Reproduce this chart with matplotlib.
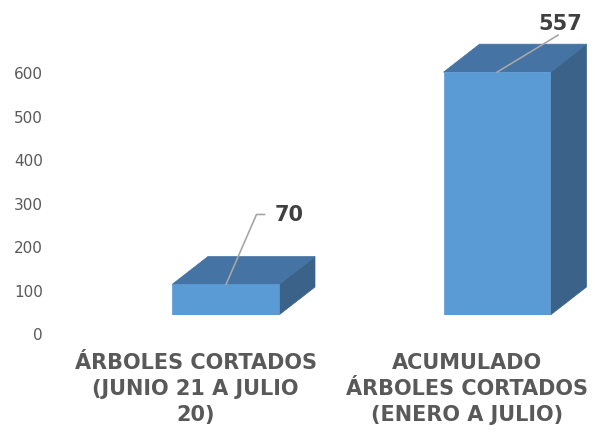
import matplotlib
matplotlib.use("Agg")
import matplotlib.pyplot as plt
from matplotlib.patches import Polygon
from matplotlib.transforms import ScaledTranslation, IdentityTransform

categories = ["ÁRBOLES CORTADOS\n(JUNIO 21 A JULIO\n20)",
              "ACUMULADO\nÁRBOLES CORTADOS\n(ENERO A JULIO)"]
values = [70, 557]
yticks = [0, 100, 200, 300, 400, 500, 600]

FRONT = "#5B9BD5"
TOP = "#4573A3"
SIDE = "#3B6389"
TICK_COLOR = "#595959"
LABEL_COLOR = "#595959"
VALUE_COLOR = "#404040"

W, H = 595, 432
fig = plt.figure(figsize=(W / 100, H / 100), dpi=100)
fig.patch.set_facecolor("white")

# axes geometry (pixels from the left / top)
ax_left, ax_right = 50, 590
ax_bottom_px, ax_top_px = 315, 31.6
ax = fig.add_axes([ax_left / W, (H - ax_bottom_px) / H,
                   (ax_right - ax_left) / W, (ax_bottom_px - ax_top_px) / H])
ax.set_xlim(-0.6464, 1.3425)
ax.set_ylim(0, 650)
ax.axis("off")

bar_w = 0.394
xs = list(range(len(values)))

# depth of the 3-D boxes, given in pixels and turned into data units
depth_px_x, depth_px_y = 36, 28
px_per_x = (ax_right - ax_left) / (1.3425 + 0.6464)
px_per_y = (ax_bottom_px - ax_top_px) / 650
dx = depth_px_x / px_per_x
dy = depth_px_y / px_per_y

for x, v in zip(xs, values):
    l, r = x - bar_w / 2, x + bar_w / 2
    # right side face
    ax.add_patch(Polygon([(r, 0), (r + dx, dy), (r + dx, v + dy), (r, v)],
                         closed=True, facecolor=SIDE, edgecolor=SIDE, lw=0.5, zorder=2))
    # top face
    ax.add_patch(Polygon([(l, v), (l + dx, v + dy), (r + dx, v + dy), (r, v)],
                         closed=True, facecolor=TOP, edgecolor=TOP, lw=0.5, zorder=2))
ax.bar(xs, values, width=bar_w, color=FRONT, edgecolor=FRONT, lw=0.5, zorder=3)

# y tick labels sit on the back wall: shifted down from the front plane
for t in yticks:
    ax.text(-0.6464, t, str(t),
            transform=ax.transData + ScaledTranslation(-7 / 100, -21 / 100, fig.dpi_scale_trans),
            ha="right", va="center", fontsize=11, color=TICK_COLOR, clip_on=False)

# category labels
for x, c in zip(xs, categories):
    ax.text(x, 0, c,
            transform=ax.transData + ScaledTranslation(-30 / 100, -38 / 100, fig.dpi_scale_trans),
            ha="center", va="top", fontsize=15, fontweight="bold", color=LABEL_COLOR,
            linespacing=1.38, clip_on=False)

# value labels with leader lines (vertex offsets in pixels from the bar's top)
leaders = [
    [(0.5, 0), (31, 70), (39, 70)],
    [(0, 0), (61, 37)],
]
label_offsets = [(49, 69, "left", "center"), (63, 42, "center", "baseline")]
fig.canvas.draw()
for x, v, pts, (lx, ly, ha, va) in zip(xs, values, leaders, label_offsets):
    bx, by = ax.transData.transform((x, v))
    ax.plot([bx + px for px, _ in pts], [by + py for _, py in pts],
            transform=IdentityTransform(), color="#A6A6A6", lw=1.2, zorder=5, clip_on=False)
    ax.text(bx + lx, by + ly, str(v), transform=IdentityTransform(), ha=ha, va=va,
            fontsize=15, fontweight="bold", color=VALUE_COLOR, zorder=6, clip_on=False)

fig.savefig("out.png", dpi=100, facecolor="white")
